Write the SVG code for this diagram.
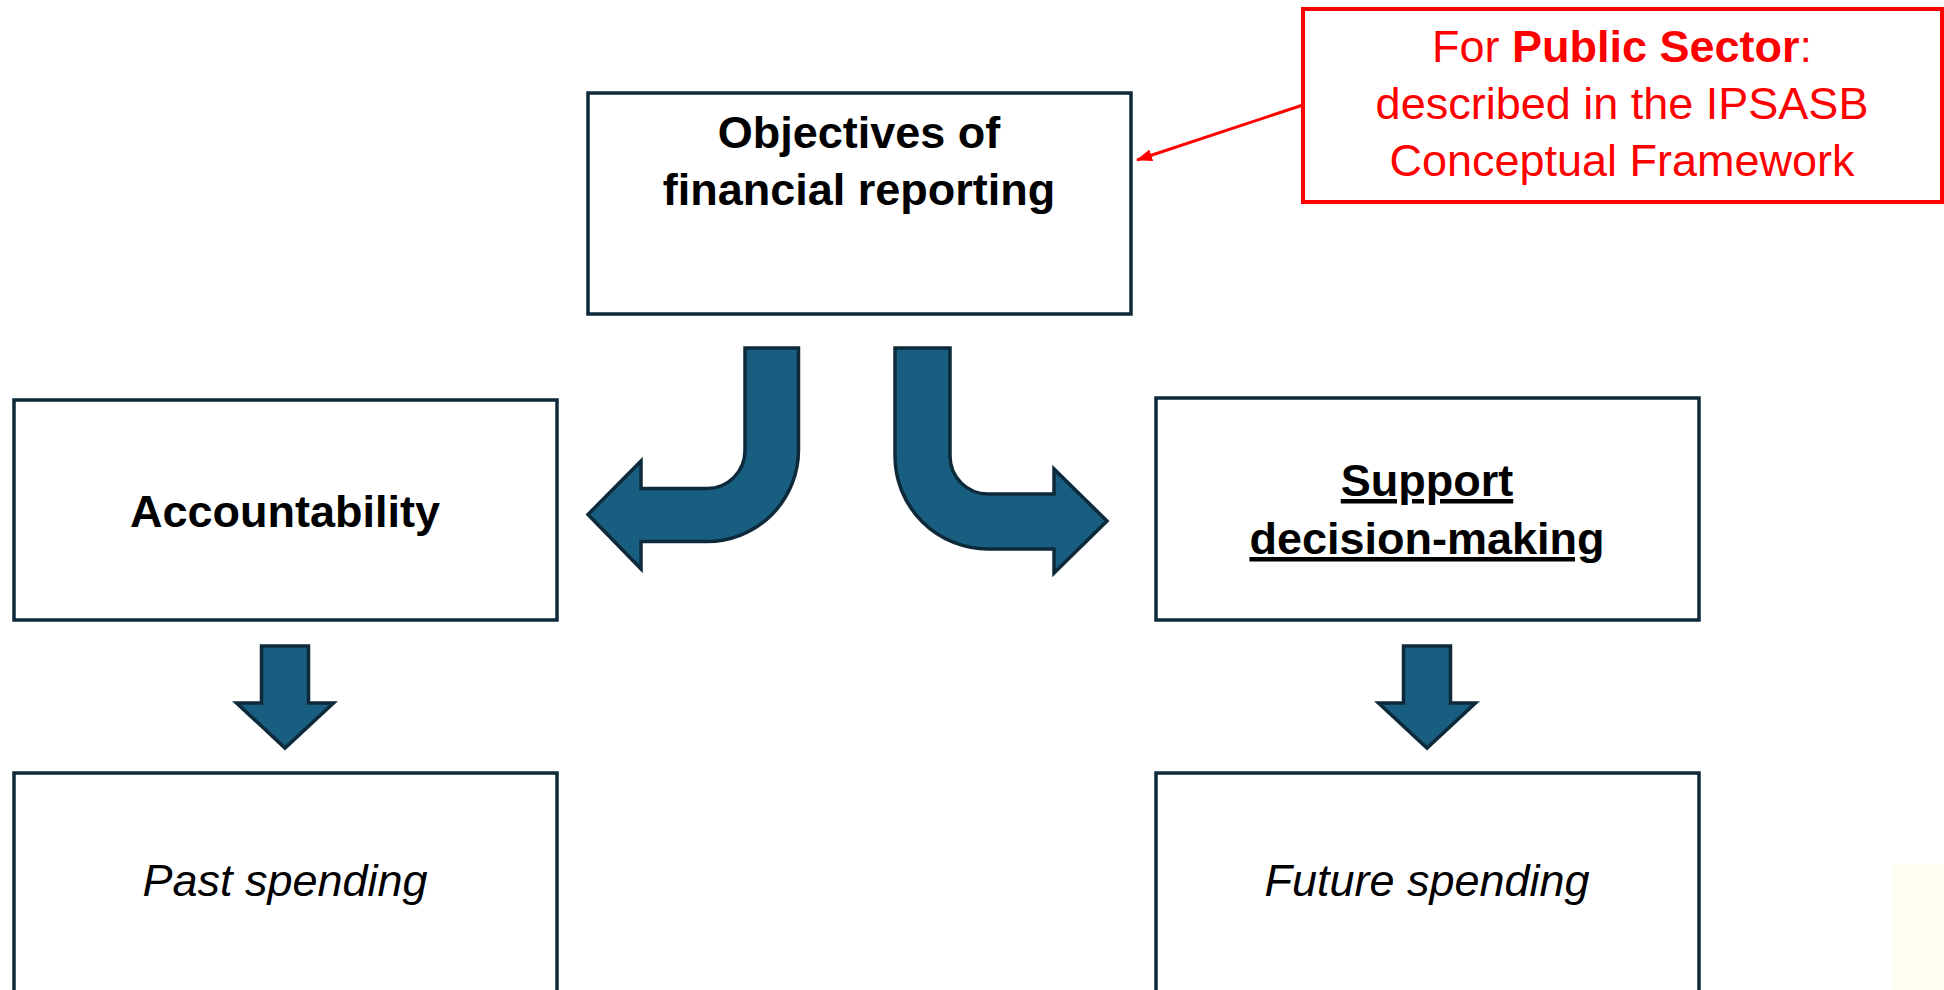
<svg xmlns="http://www.w3.org/2000/svg" width="1944" height="990" viewBox="0 0 1944 990">
<style>
.box{fill:#fff;stroke:#0e2a3a;stroke-width:3.5}
.arr{fill:#175e80;stroke:#0e2a3a;stroke-width:3.5;stroke-linejoin:miter}
.t{font-family:"Liberation Sans",Arial,sans-serif;font-size:45px;text-anchor:middle;fill:#000}
.b{font-weight:bold}
.i{font-style:italic}
.red{fill:#ff0000}
</style>
<defs>
<marker id="rh" markerWidth="10" markerHeight="10" refX="8" refY="5" orient="auto" markerUnits="userSpaceOnUse" viewBox="0 0 10 10">
<path d="M0,0 L10,5 L0,10 Z" fill="#ff0000" transform="scale(1)"/>
</marker>
<marker id="rh2" markerWidth="16" markerHeight="12" refX="15" refY="6" orient="auto" markerUnits="userSpaceOnUse">
<path d="M0,0 L16,6 L0,12 Z" fill="#ff0000"/>
</marker>
</defs>
<rect x="1892" y="864" width="52" height="126" fill="#fffef0"/>
<g id="objectives">
<rect class="box" x="588" y="93" width="543" height="221"/>
<text class="t b" x="859" y="148">Objectives of</text>
<text class="t b" x="859" y="205">financial reporting</text>
</g>
<g id="note">
<rect x="1303" y="9" width="639" height="193" fill="#fff" stroke="#ff0000" stroke-width="4"/>
<text class="t red" x="1622" y="62">For <tspan class="b">Public Sector</tspan>:</text>
<text class="t red" x="1622" y="119">described in the IPSASB</text>
<text class="t red" x="1622" y="176">Conceptual Framework</text>
</g>
<g id="accountability">
<rect class="box" x="14" y="400" width="543" height="220"/>
<text class="t b" x="285" y="527">Accountability</text>
</g>
<g id="support">
<rect class="box" x="1156" y="398" width="543" height="222"/>
<text class="t b" x="1427" y="496" text-decoration="underline">Support</text>
<text class="t b" x="1427" y="554" text-decoration="underline">decision-making</text>
</g>
<g id="past">
<rect class="box" x="14" y="773" width="543" height="230"/>
<text class="t i" x="285" y="896">Past spending</text>
</g>
<g id="future">
<rect class="box" x="1156" y="773" width="543" height="230"/>
<text class="t i" x="1427" y="896">Future spending</text>
</g>
<g id="connectors">
<path class="arr" d="M745,348 L798.5,348 L798.5,450 A91.5,91.5 0 0 1 707,541.5 L641,541.5 L641,569 L588,514.5 L641,461 L641,488.5 L707,488.5 A38,38 0 0 0 745,450.5 Z"/>
<path class="arr" d="M895,348 L950,348 L950,456 A38,38 0 0 0 988,494 L1054,494 L1054,469 L1107,521 L1054,573 L1054,549 L988,549 A93,93 0 0 1 895,456 Z"/>
<path class="arr" d="M261.5,646 L308.5,646 L308.5,703 L333.5,703 L285,748 L236.5,703 L261.5,703 Z"/>
<path class="arr" d="M1403.5,646 L1450.5,646 L1450.5,703 L1475.5,703 L1427,748 L1378.5,703 L1403.5,703 Z"/>
<line x1="1303" y1="105" x2="1137" y2="160" stroke="#ff0000" stroke-width="3" marker-end="url(#rh2)"/>
</g>
</svg>
